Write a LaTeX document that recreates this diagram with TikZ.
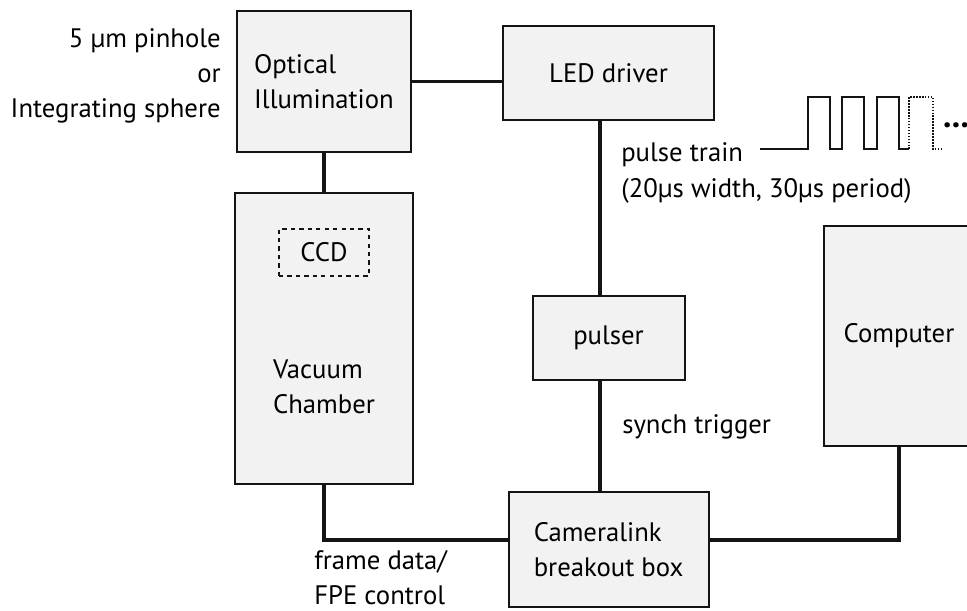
\documentclass[tikz,border=0pt]{standalone}
\usepackage{fontspec}
\setmainfont{PT Sans}
\usepackage{xcolor}
\usepackage{tikz}
\usetikzlibrary{positioning, calc}
\definecolor{boxfill}{RGB}{242,242,242}
\definecolor{ink}{RGB}{20,20,20}

\begin{document}
\begin{tikzpicture}[
  x=0.025cm, y=-0.025cm,
  blk/.style={rectangle, draw=ink, fill=boxfill, line width=1.4pt,
              inner sep=0pt, font=\fontsize{19}{25}\selectfont},
  ccdbox/.style={rectangle, draw=ink, dashed, line width=1.2pt,
                 inner sep=0pt, minimum width=2.25cm, minimum height=1.175cm,
                 font=\fontsize{19}{25}\selectfont},
  lbl/.style={inner sep=0pt, font=\fontsize{19}{25}\selectfont},
  wire/.style={line width=2.4pt, ink},
  pulse/.style={line width=1.1pt, ink},
  node distance=0.975cm
]
\useasboundingbox (0,0) rectangle (967,611);

\node[blk, minimum width=4.35cm, minimum height=3.525cm, align=left] (optic) at (324,81.5) {Optical\\Illumination};
\node[blk, minimum width=5.275cm, minimum height=2.35cm, right=2.25cm of optic, yshift=2.1mm] (led) {LED driver};
\node[blk, minimum width=4.45cm, minimum height=7.275cm, below=of optic] (vac) {};
\node[ccdbox, below=0.9cm of vac.north] (ccd) {CCD};
\node[lbl, align=left] (vactxt) at ([yshift=-1.2cm]vac.center) {Vacuum\\Chamber};
\node[blk, minimum width=3.8cm, minimum height=2.1cm, below=4.35cm of led] (pulser) {pulser};
\node[blk, minimum width=5cm, minimum height=2.875cm, align=left, below=2.75cm of pulser] (cam) {Cameralink\\breakout box};
\node[blk, minimum width=3.75cm, minimum height=5.5cm] (comp) at (899,336) {Computer};

% labels
\node[lbl, align=right, left=0.375cm of optic, yshift=1.4mm] (src) {5 µm pinhole\\or\\Integrating sphere};
\node[lbl, align=left, anchor=west] (ptrain) at (621,173) {pulse train\\(20µs width, 30µs period)};
\node[lbl, anchor=west] (synch) at (622,427) {synch trigger};
\node[lbl, align=left, anchor=west] (frame) at (314,578) {frame data/\\FPE control};

% connectors
\draw[wire] (optic.east) -- (optic.east -| led.west);
\draw[wire] (optic) -- (vac);
\draw[wire] ([xshift=-2.1mm]led.south) -- ([xshift=-2.1mm]led.south |- pulser.north);
\draw[wire] ([xshift=-2.1mm]pulser.south) -- ([xshift=-2.1mm]pulser.south |- cam.north);
\draw[wire] (vac.south) |- ([yshift=2.4mm]cam.west);
\draw[wire] ([yshift=2.4mm]cam.east) -| (comp.south);

% pulse train waveform
\coordinate (w0) at (760,149);
\draw[pulse] (w0) foreach \s in {808,842,877} { -- (\s,149) -- (\s,97) -- (\s+22,97) -- (\s+22,149) } -- (909,149) coordinate (w1);
\draw[pulse, densely dotted] (w1) -- (909,97) -- (933,97) -- (933,149) -- (943,149);
\node[lbl, font=\fontsize{24}{24}\selectfont\bfseries] (more) at (956,125) {...};
\end{tikzpicture}
\end{document}
